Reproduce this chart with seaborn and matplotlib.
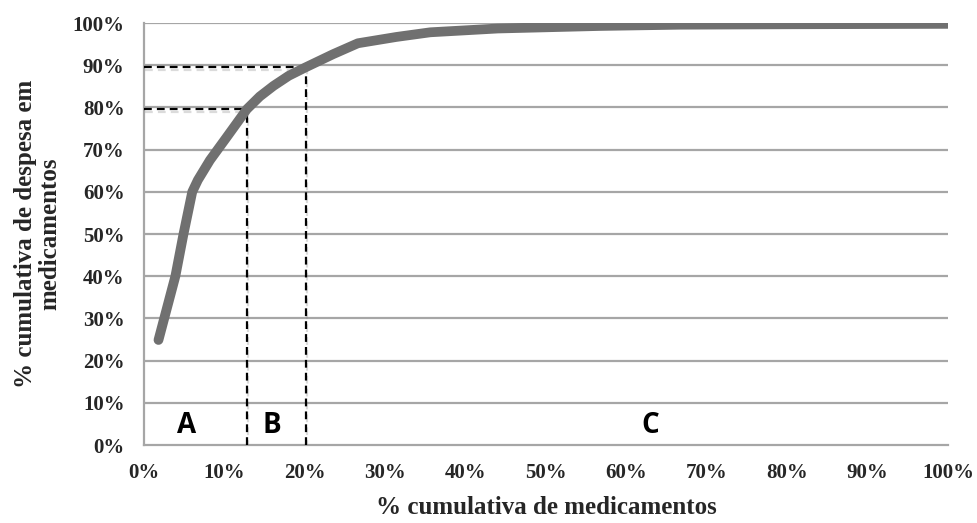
import numpy as np
import pandas as pd
import seaborn as sns
import matplotlib
matplotlib.use("Agg")
import matplotlib.pyplot as plt
import matplotlib.patheffects as pe
from matplotlib.ticker import PercentFormatter

# Data
pct_meds = [1.8, 3.9, 4.9, 6.0, 6.7, 8.2, 10.3, 12.8, 14.4, 16.1, 18.0, 20.1, 23.5, 26.6,
            31.4, 35.6, 44.0, 56.7, 66.7, 80.0, 100.0]
pct_spend = [24.9, 40.0, 49.9, 60.0, 62.8, 67.5, 73.0, 79.6, 82.6, 85.1, 87.5, 89.5, 92.6, 95.2,
             96.7, 97.8, 98.7, 99.3, 99.6, 99.7, 99.8]

cut_x = [12.8, 20.1]
cut_y = [79.6, 89.5]

class_labels = ["A", "B", "C"]
class_x = [5.3, 15.9, 62.9]
class_y = [4.6, 4.6, 4.6]

xticks = list(range(0, 101, 10))
yticks = list(range(0, 101, 10))

df = pd.DataFrame({"x": pct_meds, "y": pct_spend})

sns.set_style("white")
plt.rcParams["font.family"] = ["Liberation Serif", "DejaVu Serif"]

fig = plt.figure(figsize=(9.77, 5.23), dpi=100)
ax = fig.add_axes([0.1474, 0.149, 0.823, 0.807])

grid_c = "#a6a6a6"
ax.set_xlim(0, 100)
ax.set_ylim(0, 100)
ax.set_xticks(xticks)
ax.set_yticks(yticks)
for yv in yticks[1:]:
    ax.axhline(yv, color=grid_c, lw=1.6, zorder=1)

sns.lineplot(data=df, x="x", y="y", ax=ax, color="#707070", lw=7,
             solid_capstyle="round", solid_joinstyle="round", zorder=4)

shadow = [pe.SimpleLineShadow(offset=(0.8, -2.0), shadow_color="#888888", alpha=0.3), pe.Normal()]
dash = (0, (3.5, 2.3))
for cx, cy in zip(cut_x, cut_y):
    ax.plot([cx, cx], [0, cy], color="black", lw=1.6, ls=dash, zorder=3, path_effects=shadow)
    ax.plot([0, cx], [cy, cy], color="black", lw=1.6, ls=dash, zorder=3, path_effects=shadow)

for lab, lx, ly in zip(class_labels, class_x, class_y):
    ax.text(lx, ly, lab, ha="center", va="center", fontsize=20, fontweight="bold",
            family=["Open Sans", "DejaVu Sans"], color="black", zorder=5)

ax.xaxis.set_major_formatter(PercentFormatter(100, decimals=0))
ax.yaxis.set_major_formatter(PercentFormatter(100, decimals=0))

for s in ["top", "right"]:
    ax.spines[s].set_visible(False)
for s in ["left", "bottom"]:
    ax.spines[s].set_color(grid_c)
    ax.spines[s].set_linewidth(1.6)

ax.tick_params(axis="both", which="major", direction="out", length=5, width=1.4,
               color=grid_c, labelsize=15, pad=9)
ax.tick_params(axis="x", pad=8)
for t in ax.get_xticklabels() + ax.get_yticklabels():
    t.set_fontweight("bold")

ax.set_xlabel("% cumulativa de medicamentos", fontsize=18, fontweight="bold", labelpad=9)
ax.set_ylabel("% cumulativa de despesa em\nmedicamentos", fontsize=18, fontweight="bold", labelpad=8,
              linespacing=1.1)

fig.savefig("out.png", dpi=100)
